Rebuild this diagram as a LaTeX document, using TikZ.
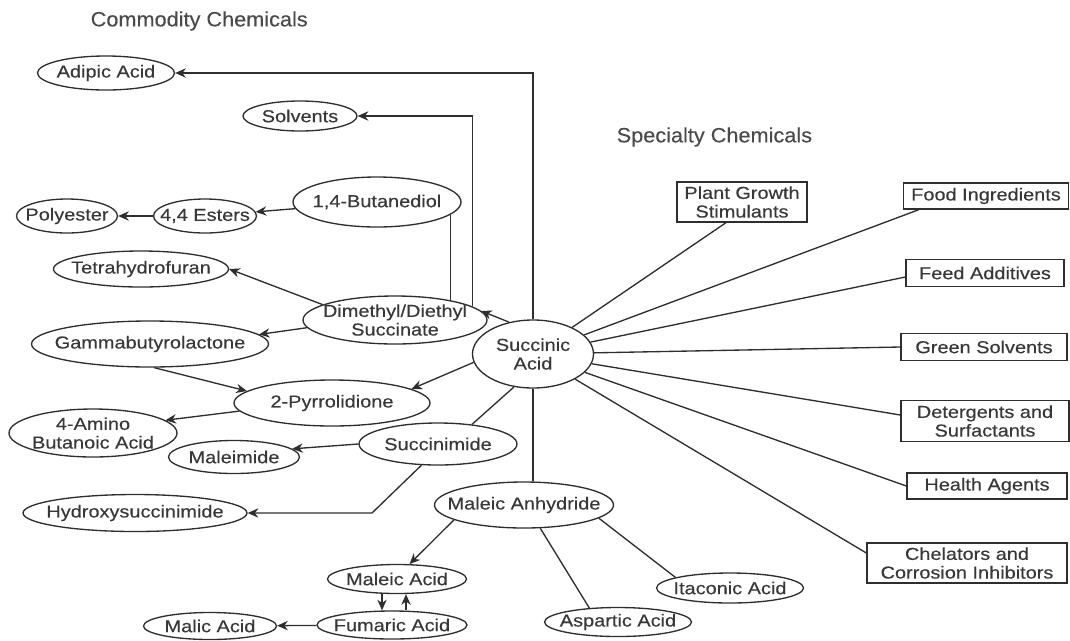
\documentclass[tikz,border=0pt]{standalone}
\usepackage{fontspec}
\setmainfont{Liberation Sans}[FakeStretch=1.15,FakeBold=0.3]
\newfontfamily\ttlfont{Liberation Sans}[FakeStretch=1.05,FakeBold=0.15]
\usetikzlibrary{shapes.geometric,arrows.meta,calc}
\definecolor{ln}{HTML}{2E2E2E}
\definecolor{txt}{HTML}{383838}
\definecolor{ttxt}{HTML}{4A4A4A}
\begin{document}
\begin{tikzpicture}[x=0.75pt,y=-0.75pt,
  every node/.style={font=\fontsize{13}{14}\selectfont, text=txt},
  sz/.style 2 args={minimum width=#1*0.75pt, minimum height=#2*0.75pt},
  ell/.style={ellipse, draw=ln, line width=1pt, inner sep=-20pt, align=center},
  box/.style={rectangle, draw=ln, line width=1pt, inner sep=1pt, align=center},
  con/.style={draw=ln, line width=1pt},
  arr/.style={con, -{Stealth[length=8pt,width=7pt]}},
  ttl/.style={font=\ttlfont\fontsize{15.5}{18}\selectfont, text=ttxt}]
\useasboundingbox (0,0) rectangle (1070,640);

% titles
\node[ttl,anchor=west] (tcomm) at (86,21) {Commodity Chemicals};
\node[ttl,anchor=west] (tspec) at (612,137) {Specialty Chemicals};

% ellipses
\node[ell,sz={137}{34}] (adipic) at (106,73) {Adipic Acid};
\node[ell,sz={114}{30}] (solvents) at (300,116) {Solvents};
\node[ell,sz={168}{50}] (butanediol) at (377,202) {1,4-Butanediol};
\node[ell,sz={103}{34}] (esters) at (205,216) {4,4 Esters};
\node[ell,sz={101}{34}] (polyester) at (67,216) {Polyester};
\node[ell,sz={175}{36}] (thf) at (141,269) {Tetrahydrofuran};
\node[ell,sz={184}{48}] (dimethyl) at (395,320) {Dimethyl/Diethyl\\Succinate};
\node[ell,sz={237}{46}] (gbl) at (150,344) {Gammabutyrolactone};
\node[ell,sz={121}{68}] (succinic) at (533,354) {Succinic\\Acid};
\node[ell,sz={196}{46}] (pyrr) at (332,403) {2-Pyrrolidione};
\node[ell,sz={168}{48}] (amino) at (93,433) {4-Amino\\Butanoic Acid};
\node[ell,sz={158}{42}] (succinimide) at (438,444) {Succinimide};
\node[ell,sz={131}{33}] (maleimide) at (234,457) {Maleimide};
\node[ell,sz={224}{37}] (hydroxy) at (135,513) {Hydroxysuccinimide};
\node[ell,sz={179}{46}] (anhydride) at (524,505) {Maleic Anhydride};
\node[ell,sz={139}{29}] (maleicacid) at (397,579) {Maleic Acid};
\node[ell,sz={150}{28}] (fumaric) at (392,625) {Fumaric Acid};
\node[ell,sz={133}{27}] (malic) at (210,626) {Malic Acid};
\node[ell,sz={147}{29}] (aspartic) at (618,622) {Aspartic Acid};
\node[ell,sz={147}{30}] (itaconic) at (730,588) {Itaconic Acid};

% boxes
\node[box,sz={130}{40}] (plant) at (742,202) {Plant Growth\\Stimulants};
\node[box,sz={165}{26}] (food) at (986,196) {Food Ingredients};
\node[box,sz={158}{27}] (feed) at (985,273) {Feed Additives};
\node[box,sz={166}{27}] (green) at (984,347) {Green Solvents};
\node[box,sz={168}{41}] (deterg) at (985,421) {Detergents and\\Surfactants};
\node[box,sz={160}{26}] (health) at (987,486) {Health Agents};
\node[box,sz={200}{40}] (chel) at (967,563) {Chelators and\\Corrosion Inhibitors};

% commodity connectors
\draw[arr] (succinic.north) |- (adipic.east);
\draw[arr] (dimethyl.10) |- (solvents.east);
\draw[con] (butanediol.-10) -- (butanediol.-10 |- dimethyl.20);
\draw[arr] (butanediol) -- (esters);
\draw[arr] (esters) -- (polyester);
\draw[arr] (dimethyl.168) -- (thf.east);
\draw[arr] (dimethyl.-175) -- (gbl.5);
\draw[arr] (succinic.127) -- (dimethyl.6);
\draw[arr] (succinic.188) -- (pyrr.10);
\draw[arr] (gbl.-80) -- (pyrr.172);
\draw[arr] (pyrr.-175) -- (amino.10);
\draw[con] (succinic.-120) -- (succinimide.30);
\draw[arr] (succinimide.180) -- (maleimide.8);
\coordinate (hbend) at (372,513);
\draw[arr] (succinimide.-128) -- (hbend) -- (hydroxy.east);
\draw[con] (succinic.south) -- (succinic.south |- anhydride.north);
\draw[arr] (anhydride.-168) -- (maleicacid.50);
\draw[con] (anhydride.-55) -- (aspartic.154);
\draw[con] (anhydride.-10) -- (itaconic.169);
\draw[arr] ($(maleicacid.south)+(-15,0)$) -- ($(fumaric.north)+(-10,0)$);
\draw[arr] ($(fumaric.north)+(14,0)$) -- ($(maleicacid.south)+(9,0)$);
\draw[arr] (fumaric) -- (malic);

% specialty spokes
\draw[con] (succinic) -- ([xshift=-12pt]plant.south);
\draw[con] (succinic) -- ([xshift=12pt]food.south west);
\draw[con] (succinic) -- ([yshift=-3pt]feed.west);
\draw[con] (succinic) -- (green.west);
\draw[con] (succinic) -- ([yshift=4.5pt]deterg.west);
\draw[con] (succinic) -- (health.west);
\draw[con] (succinic) -- ([yshift=7.5pt]chel.west);
\end{tikzpicture}
\end{document}
